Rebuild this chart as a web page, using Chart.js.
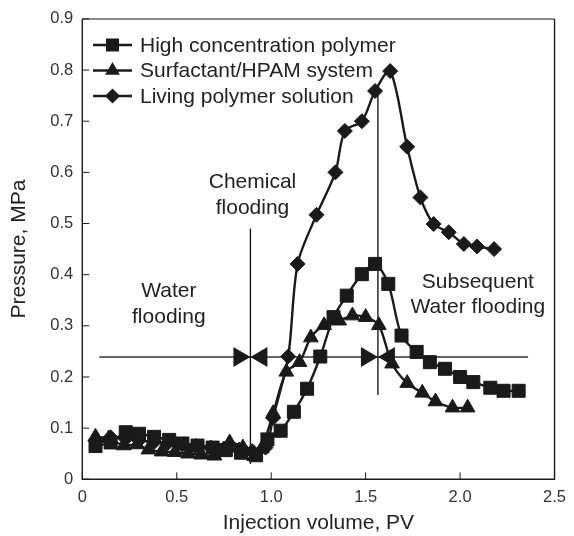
<!DOCTYPE html>
<html>
<head>
<meta charset="utf-8">
<script src="https://cdn.jsdelivr.net/npm/chart.js@4.4.1/dist/chart.umd.min.js"></script>
<style>
  html, body { margin: 0; padding: 0; background: #fff; }
  #wrap { width: 574px; height: 536px; }
</style>
</head>
<body>
<div id="wrap"><canvas id="myChart" width="574" height="536"></canvas></div>
<script>
// series
const hcX = [0.07, 0.15, 0.23, 0.30, 0.38, 0.46, 0.53, 0.61, 0.69, 0.76, 0.84, 0.92, 0.98, 1.05, 1.12, 1.19, 1.26, 1.33, 1.40, 1.48, 1.55, 1.62, 1.69, 1.77, 1.84, 1.92, 2.00, 2.07, 2.16, 2.23, 2.31];
const hcY = [0.065, 0.072, 0.092, 0.089, 0.083, 0.077, 0.070, 0.066, 0.062, 0.057, 0.052, 0.047, 0.078, 0.095, 0.132, 0.177, 0.240, 0.317, 0.359, 0.401, 0.421, 0.382, 0.281, 0.249, 0.229, 0.216, 0.200, 0.190, 0.179, 0.173, 0.173];

const shX = [0.07, 0.14, 0.22, 0.29, 0.35, 0.42, 0.49, 0.56, 0.63, 0.70, 0.78, 0.85, 0.91, 0.95, 1.01, 1.08, 1.15, 1.21, 1.28, 1.36, 1.43, 1.50, 1.57, 1.64, 1.72, 1.80, 1.87, 1.96, 2.04];
const shY = [0.083, 0.080, 0.066, 0.068, 0.058, 0.054, 0.053, 0.050, 0.048, 0.046, 0.072, 0.062, 0.045, 0.060, 0.129, 0.210, 0.229, 0.277, 0.301, 0.310, 0.320, 0.317, 0.301, 0.226, 0.188, 0.169, 0.152, 0.140, 0.140];

const lpX = [0.07, 0.15, 0.23, 0.30, 0.38, 0.45, 0.53, 0.60, 0.68, 0.75, 0.83, 0.90, 0.97, 1.01, 1.09, 1.14, 1.24, 1.34, 1.39, 1.48, 1.55, 1.63, 1.72, 1.79, 1.86, 1.94, 2.02, 2.09, 2.18];
const lpY = [0.076, 0.082, 0.079, 0.076, 0.073, 0.070, 0.068, 0.065, 0.062, 0.060, 0.058, 0.055, 0.062, 0.120, 0.240, 0.421, 0.517, 0.600, 0.681, 0.700, 0.759, 0.798, 0.650, 0.551, 0.499, 0.483, 0.460, 0.455, 0.450];

const seriesNames = ['High concentration polymer', 'Surfactant/HPAM system', 'Living polymer solution'];

const xTicks = [0, 0.5, 1.0, 1.5, 2.0, 2.5];
const xTickLabels = ['0', '0.5', '1.0', '1.5', '2.0', '2.5'];
const yTicks = [0, 0.1, 0.2, 0.3, 0.4, 0.5, 0.6, 0.7, 0.8, 0.9];
const yTickLabels = ['0', '0.1', '0.2', '0.3', '0.4', '0.5', '0.6', '0.7', '0.8', '0.9'];

// flooding stage markers
const stageLineX = [0.89, 1.565];
const stageLineTop = [0.49, 0.76];
const stageLineBottom = [0.03, 0.165];
const splitY = 0.239;
const splitFrom = 0.09;
const splitTo = 2.36;
const stageText = [['Water', 'flooding'], ['Chemical', 'flooding'], ['Subsequent', 'Water flooding']];
const stageTextX = [0.458, 0.901, 2.094];
const stageTextY = [0.367, 0.58, 0.386];

const ink = '#1a1a1a';
const font = '"Liberation Sans", Arial, sans-serif';

function pts(xs, ys) {
  return xs.map((v, i) => ({ x: v, y: ys[i] }));
}

function marker(ctx, style, x, y) {
  ctx.beginPath();
  if (style === 'rect') {
    ctx.rect(x - 6.5, y - 6.5, 13, 13);
  } else if (style === 'triangle') {
    ctx.moveTo(x, y - 8.5);
    ctx.lineTo(x + 7.4, y + 4.25);
    ctx.lineTo(x - 7.4, y + 4.25);
    ctx.closePath();
  } else {
    ctx.moveTo(x, y - 7.5);
    ctx.lineTo(x + 7.5, y);
    ctx.lineTo(x, y + 7.5);
    ctx.lineTo(x - 7.5, y);
    ctx.closePath();
  }
  ctx.fill();
}

const extras = {
  id: 'extras',
  beforeDatasetsDraw(chart) {
    const { ctx, scales: { x, y } } = chart;
    ctx.save();
    // horizontal split line
    ctx.strokeStyle = '#666';
    ctx.lineWidth = 2;
    ctx.beginPath();
    ctx.moveTo(x.getPixelForValue(splitFrom), y.getPixelForValue(splitY));
    ctx.lineTo(x.getPixelForValue(splitTo), y.getPixelForValue(splitY));
    ctx.stroke();
    // vertical stage lines with bow-tie arrows
    ctx.strokeStyle = ink;
    ctx.fillStyle = ink;
    ctx.lineWidth = 1.4;
    stageLineX.forEach((v, i) => {
      const px = x.getPixelForValue(v);
      ctx.beginPath();
      ctx.moveTo(px, y.getPixelForValue(stageLineTop[i]));
      ctx.lineTo(px, y.getPixelForValue(stageLineBottom[i]));
      ctx.stroke();
      const py = y.getPixelForValue(splitY);
      ctx.beginPath();
      ctx.moveTo(px, py);
      ctx.lineTo(px - 17, py - 10);
      ctx.lineTo(px - 17, py + 10);
      ctx.closePath();
      ctx.moveTo(px, py);
      ctx.lineTo(px + 17, py - 10);
      ctx.lineTo(px + 17, py + 10);
      ctx.closePath();
      ctx.fill();
    });
    // stage labels
    ctx.fillStyle = '#222';
    ctx.font = '21px ' + font;
    ctx.textAlign = 'center';
    ctx.textBaseline = 'middle';
    stageText.forEach((lines, i) => {
      const px = x.getPixelForValue(stageTextX[i]);
      const py = y.getPixelForValue(stageTextY[i]);
      lines.forEach((t, j) => ctx.fillText(t, px, py + j * 25.5));
    });
    ctx.restore();
  },
  afterDraw(chart) {
    const { ctx, chartArea: { left, right, top, bottom }, scales: { x, y } } = chart;
    ctx.save();
    // frame
    ctx.strokeStyle = '#888';
    ctx.lineWidth = 2;
    ctx.beginPath();
    ctx.moveTo(left, top);
    ctx.lineTo(right, top);
    ctx.stroke();
    ctx.strokeStyle = ink;
    ctx.lineWidth = 1.4;
    ctx.beginPath();
    ctx.moveTo(right, top);
    ctx.lineTo(right, bottom);
    ctx.lineTo(left, bottom);
    ctx.lineTo(left, top);
    ctx.stroke();
    // inward tick marks
    ctx.lineWidth = 1;
    ctx.beginPath();
    yTicks.forEach(v => {
      const py = y.getPixelForValue(v);
      ctx.moveTo(left, py);
      ctx.lineTo(left + 7, py);
    });
    xTicks.forEach(v => {
      const px = x.getPixelForValue(v);
      ctx.moveTo(px, bottom);
      ctx.lineTo(px, bottom - 7);
    });
    ctx.stroke();
    // legend
    const rows = [45, 70.5, 96];
    ctx.font = '21px ' + font;
    ctx.textAlign = 'left';
    ctx.textBaseline = 'middle';
    chart.data.datasets.forEach((ds, i) => {
      const ry = rows[i];
      ctx.strokeStyle = ink;
      ctx.lineWidth = 2.4;
      ctx.beginPath();
      ctx.moveTo(93, ry);
      ctx.lineTo(132, ry);
      ctx.stroke();
      ctx.fillStyle = ink;
      marker(ctx, ds.pointStyle, 112.5, ry);
      ctx.fillStyle = '#222';
      ctx.fillText(ds.label, 140, ry + 1);
    });
    ctx.restore();
  }
};

const common = {
  borderColor: ink,
  backgroundColor: ink,
  pointBackgroundColor: ink,
  pointBorderColor: ink,
  pointBorderWidth: 1,
  borderWidth: 2.4,
  tension: 0.3,
  fill: false
};

const ctx = document.getElementById('myChart').getContext('2d');
const myChart = new Chart(ctx, {
  type: 'line',
  data: {
    datasets: [
      { ...common, label: seriesNames[0], data: pts(hcX, hcY), pointStyle: 'rect', pointRadius: 9.2 },
      { ...common, label: seriesNames[1], data: pts(shX, shY), pointStyle: 'triangle', pointRadius: 8.5 },
      { ...common, label: seriesNames[2], data: pts(lpX, lpY), pointStyle: 'rectRot', pointRadius: 7.5 }
    ]
  },
  options: {
    responsive: false,
    animation: false,
    devicePixelRatio: 1,
    layout: { padding: { left: 0, top: 17.7, right: 11.7, bottom: 0 } },
    plugins: {
      legend: { display: false },
      tooltip: { enabled: false }
    },
    scales: {
      x: {
        type: 'linear',
        min: 0,
        max: 2.5,
        afterBuildTicks: s => { s.ticks = xTicks.map(v => ({ value: v })); },
        afterFit: s => { s.height = 56.7; },
        grid: { display: false, drawTicks: false },
        border: { display: false },
        ticks: {
          padding: 8,
          color: '#333',
          font: { family: font, size: 16.5 },
          maxRotation: 0,
          callback: (v, i) => xTickLabels[i]
        },
        title: {
          display: true,
          text: 'Injection volume, PV',
          color: '#222',
          font: { family: font, size: 21 },
          padding: { top: 0, bottom: 0 }
        }
      },
      y: {
        min: 0,
        max: 0.9,
        afterBuildTicks: s => { s.ticks = yTicks.map(v => ({ value: v })); },
        afterFit: s => { s.width = 82.3; },
        grid: { display: false, drawTicks: false },
        border: { display: false },
        ticks: {
          padding: 9,
          color: '#333',
          font: { family: font, size: 16.5 },
          callback: (v, i) => yTickLabels[i]
        },
        title: {
          display: true,
          text: 'Pressure, MPa',
          color: '#222',
          font: { family: font, size: 21 },
          padding: { top: 7, bottom: 0 }
        }
      }
    }
  },
  plugins: [extras]
});
</script>
</body>
</html>
